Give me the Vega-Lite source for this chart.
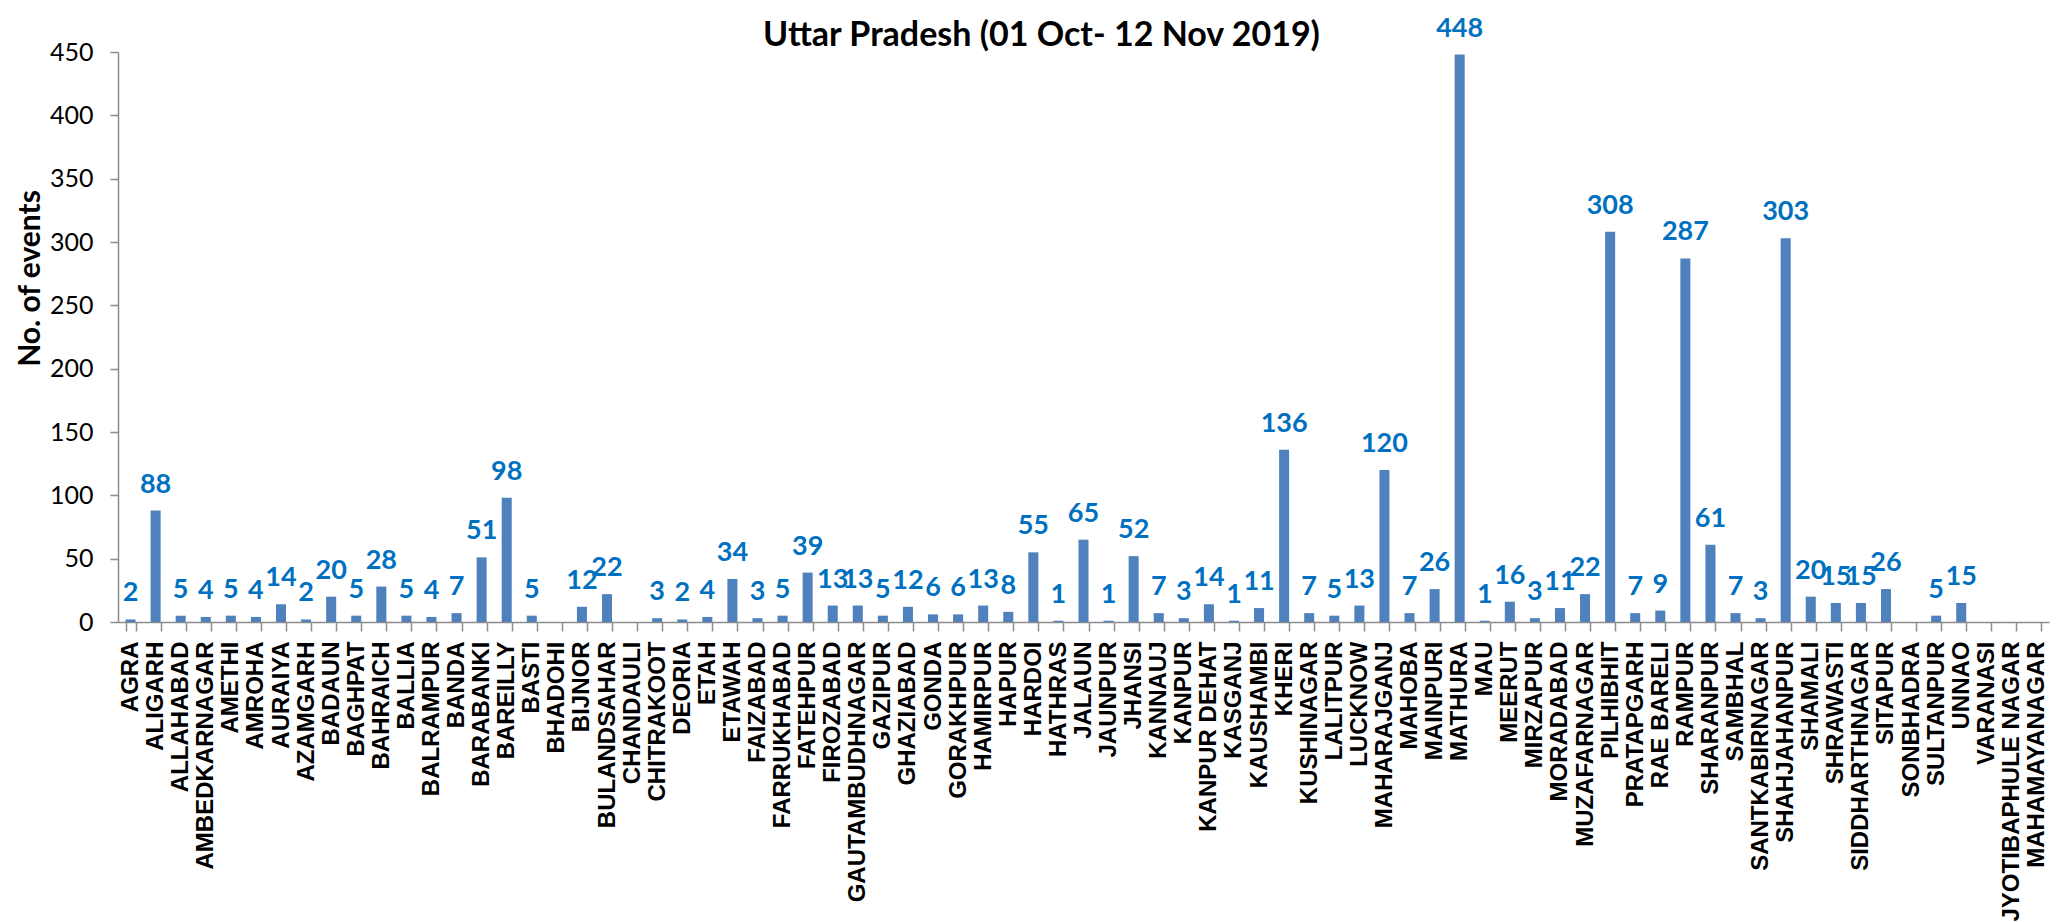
{
  "$schema": "https://vega.github.io/schema/vega-lite/v6.json",
  "width": 1931,
  "height": 570,
  "autosize": {"type": "none"},
  "padding": {"left": 118, "top": 52, "right": 23, "bottom": 300},
  "background": "white",
  "title": {
    "text": "Uttar Pradesh (01 Oct- 12 Nov 2019)",
    "font": "Lato",
    "fontSize": 34,
    "fontWeight": "bold",
    "color": "black",
    "anchor": "middle",
    "frame": "group",
    "baseline": "alphabetic",
    "offset": 0,
    "dx": -42,
    "dy": 65
  },
  "config": {
    "view": {"stroke": null}
  },
  "data": {
    "values": [
      {"district": "AGRA", "events": 2},
      {"district": "ALIGARH", "events": 88},
      {"district": "ALLAHABAD", "events": 5},
      {"district": "AMBEDKARNAGAR", "events": 4},
      {"district": "AMETHI", "events": 5},
      {"district": "AMROHA", "events": 4},
      {"district": "AURAIYA", "events": 14},
      {"district": "AZAMGARH", "events": 2},
      {"district": "BADAUN", "events": 20},
      {"district": "BAGHPAT", "events": 5},
      {"district": "BAHRAICH", "events": 28},
      {"district": "BALLIA", "events": 5},
      {"district": "BALRAMPUR", "events": 4},
      {"district": "BANDA", "events": 7},
      {"district": "BARABANKI", "events": 51},
      {"district": "BAREILLY", "events": 98},
      {"district": "BASTI", "events": 5},
      {"district": "BHADOHI", "events": 0},
      {"district": "BIJNOR", "events": 12},
      {"district": "BULANDSAHAR", "events": 22},
      {"district": "CHANDAULI", "events": 0},
      {"district": "CHITRAKOOT", "events": 3},
      {"district": "DEORIA", "events": 2},
      {"district": "ETAH", "events": 4},
      {"district": "ETAWAH", "events": 34},
      {"district": "FAIZABAD", "events": 3},
      {"district": "FARRUKHABAD", "events": 5},
      {"district": "FATEHPUR", "events": 39},
      {"district": "FIROZABAD", "events": 13},
      {"district": "GAUTAMBUDHNAGAR", "events": 13},
      {"district": "GAZIPUR", "events": 5},
      {"district": "GHAZIABAD", "events": 12},
      {"district": "GONDA", "events": 6},
      {"district": "GORAKHPUR", "events": 6},
      {"district": "HAMIRPUR", "events": 13},
      {"district": "HAPUR", "events": 8},
      {"district": "HARDOI", "events": 55},
      {"district": "HATHRAS", "events": 1},
      {"district": "JALAUN", "events": 65},
      {"district": "JAUNPUR", "events": 1},
      {"district": "JHANSI", "events": 52},
      {"district": "KANNAUJ", "events": 7},
      {"district": "KANPUR", "events": 3},
      {"district": "KANPUR DEHAT", "events": 14},
      {"district": "KASGANJ", "events": 1},
      {"district": "KAUSHAMBI", "events": 11},
      {"district": "KHERI", "events": 136},
      {"district": "KUSHINAGAR", "events": 7},
      {"district": "LALITPUR", "events": 5},
      {"district": "LUCKNOW", "events": 13},
      {"district": "MAHARAJGANJ", "events": 120},
      {"district": "MAHOBA", "events": 7},
      {"district": "MAINPURI", "events": 26},
      {"district": "MATHURA", "events": 448},
      {"district": "MAU", "events": 1},
      {"district": "MEERUT", "events": 16},
      {"district": "MIRZAPUR", "events": 3},
      {"district": "MORADABAD", "events": 11},
      {"district": "MUZAFARNAGAR", "events": 22},
      {"district": "PILHIBHIT", "events": 308},
      {"district": "PRATAPGARH", "events": 7},
      {"district": "RAE BARELI", "events": 9},
      {"district": "RAMPUR", "events": 287},
      {"district": "SHARANPUR", "events": 61},
      {"district": "SAMBHAL", "events": 7},
      {"district": "SANTKABIRNAGAR", "events": 3},
      {"district": "SHAHJAHANPUR", "events": 303},
      {"district": "SHAMALI", "events": 20},
      {"district": "SHRAWASTI", "events": 15},
      {"district": "SIDDHARTHNAGAR", "events": 15},
      {"district": "SITAPUR", "events": 26},
      {"district": "SONBHADRA", "events": 0},
      {"district": "SULTANPUR", "events": 5},
      {"district": "UNNAO", "events": 15},
      {"district": "VARANASI", "events": 0},
      {"district": "JYOTIBAPHULE NAGAR", "events": 0},
      {"district": "MAHAMAYANAGAR", "events": 0}
    ]
  },
  "encoding": {
    "x": {
      "field": "district",
      "type": "nominal",
      "sort": null,
      "scale": {"paddingInner": 0.6, "paddingOuter": 0.3},
      "axis": {
        "title": null,
        "labelAngle": -90,
        "labelAlign": "right",
        "labelBaseline": "middle",
        "labelFont": "Liberation Sans",
        "labelFontWeight": "bold",
        "labelFontSize": 24,
        "labelColor": "black",
        "labelPadding": 10,
        "labelLimit": 500,
        "labelOverlap": false,
        "tickSize": 9,
        "tickBand": "extent",
        "tickColor": "#8c8c8c",
        "tickWidth": 1.5,
        "domainColor": "#8c8c8c",
        "domainWidth": 1.5
      }
    },
    "y": {
      "field": "events",
      "type": "quantitative",
      "scale": {"domain": [0, 450], "nice": false},
      "axis": {
        "title": "No. of events",
        "titleFont": "Lato",
        "titleFontSize": 30,
        "titleFontWeight": "bold",
        "titleColor": "black",
        "titleAngle": -90,
        "titleAlign": "center",
        "titleBaseline": "middle",
        "titleX": -88,
        "titleY": 226,
        "values": [0, 50, 100, 150, 200, 250, 300, 350, 400, 450],
        "labelFont": "Lato",
        "labelFontSize": 25,
        "labelColor": "black",
        "labelPadding": 17,
        "tickSize": 8,
        "tickColor": "#8c8c8c",
        "tickWidth": 1.5,
        "domainColor": "#8c8c8c",
        "domainWidth": 1.5,
        "grid": false
      }
    }
  },
  "layer": [
    {
      "mark": {"type": "bar", "color": "#4F81BD"}
    },
    {
      "transform": [{"filter": "datum.events > 0"}],
      "mark": {
        "type": "text",
        "font": "Lato",
        "fontSize": 27,
        "fontWeight": "bold",
        "color": "#0070C0",
        "baseline": "alphabetic",
        "dy": -18
      },
      "encoding": {
        "text": {"field": "events", "type": "quantitative"}
      }
    }
  ]
}
